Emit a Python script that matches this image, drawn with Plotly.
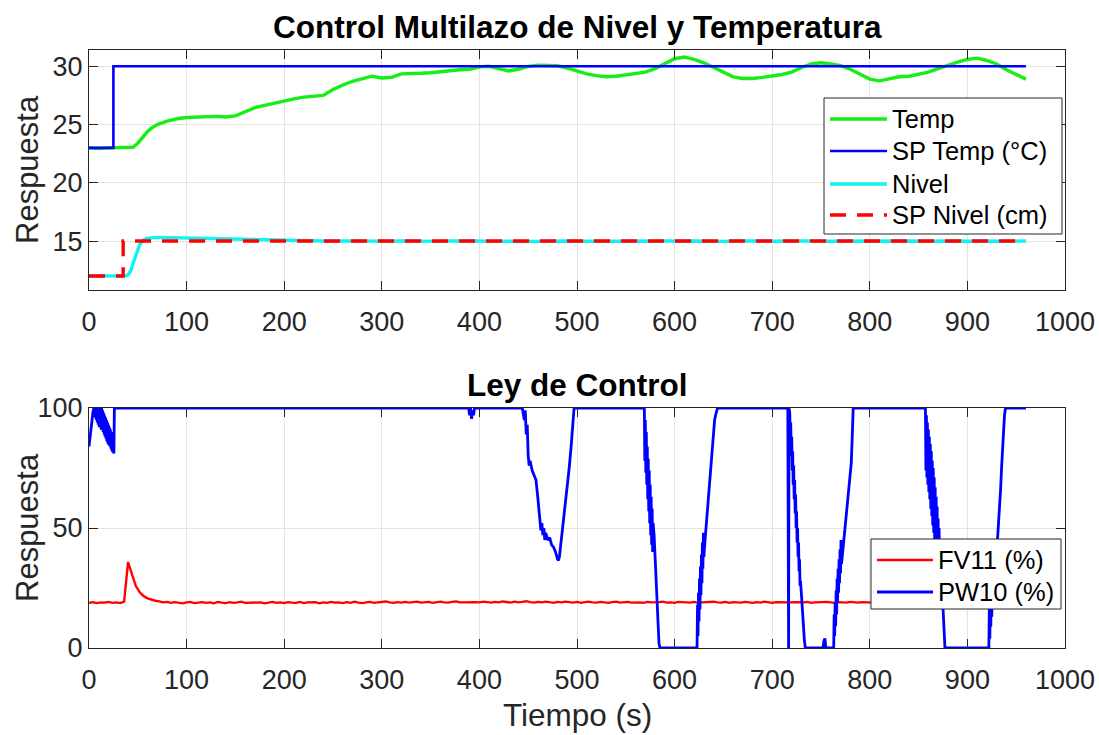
import plotly.graph_objects as go

# ---------------- data ----------------
sp_temp_t = [0, 25, 25, 960]
sp_temp_v = [23, 23, 30, 30]

sp_nivel_t = [0, 35, 35, 960]
sp_nivel_v = [12, 12, 15, 15]

temp_t = [0, 10, 20, 30, 40, 45, 50, 55, 60, 65, 70] + list(range(80, 961, 10))
temp_v = [23.0, 22.95, 23.0, 23.0, 23.0, 23.05, 23.4, 23.9, 24.4, 24.75, 25.0,
          25.3, 25.5, 25.6, 25.65, 25.7, 25.7, 25.65, 25.75, 26.1, 26.45,
          26.65, 26.85, 27.05, 27.2, 27.35, 27.45, 27.5, 28.0, 28.4, 28.7,
          28.95, 29.15, 29.0, 29.05, 29.35, 29.35, 29.4, 29.45, 29.55, 29.65,
          29.7, 29.75, 29.95, 30.0, 29.8, 29.6, 29.75, 30.0, 30.1, 30.1,
          30.05, 29.85, 29.6, 29.35, 29.2, 29.1, 29.15, 29.25, 29.35, 29.5,
          29.8, 30.2, 30.65, 30.8, 30.6, 30.3, 29.9, 29.5, 29.1, 28.95,
          28.95, 29.05, 29.15, 29.3, 29.5, 29.9, 30.2, 30.3, 30.2, 30.05,
          29.75, 29.3, 28.9, 28.75, 28.95, 29.1, 29.15, 29.3, 29.5, 29.8,
          30.1, 30.35, 30.6, 30.7, 30.5, 30.2, 29.7, 29.3, 28.9]

nivel_t = [0, 10, 20, 30, 38, 40, 43, 46, 49, 52, 56, 60, 70, 80, 90, 100,
           110, 120, 130, 140, 150, 160, 170, 180, 190, 200] + list(range(210, 961, 10))
nivel_v = [12.0, 12.0, 11.98, 12.0, 12.02, 12.1, 12.5, 13.3, 14.1, 14.7, 15.1, 15.25, 15.32,
           15.3, 15.28, 15.25, 15.22, 15.2, 15.17, 15.14, 15.12, 15.1, 15.08, 15.06, 15.05, 15.04,
           15.02, 14.99, 15.03, 15.0, 14.98, 15.02, 15.01, 14.97, 15.03, 15.0,
           14.98, 15.02, 14.99, 15.03, 15.0, 14.97, 15.01, 15.03, 14.99, 15.0,
           14.97, 15.01, 14.98, 14.96, 15.0, 14.97, 14.99, 14.96, 15.0, 14.98,
           14.97, 15.0, 14.98, 14.96, 14.99, 15.01, 14.97, 14.99, 15.0, 14.97,
           14.99, 15.01, 14.98, 15.0, 14.97, 15.0, 15.02, 14.98, 15.0, 14.99,
           15.01, 14.98, 15.0, 15.02, 14.99, 15.0, 14.98, 15.01, 15.0, 14.98,
           15.02, 14.99, 15.0, 15.01, 14.98, 15.0, 15.02, 14.99, 15.0, 14.98,
           15.01, 15.0, 14.99, 15.01, 15.0, 15.0]

fv11_v = [18.8, 19.1, 18.7, 19.0, 18.9, 19.2, 18.8, 19.0, 18.7,
          19.3, 35.8, 31.0, 25.8, 23.2, 21.6, 20.7, 20.1, 19.7, 19.4, 19.0, 19.2,
          18.8, 19.1, 18.9, 18.6, 19.0, 19.2, 18.7, 18.9, 19.1, 18.8, 19.0, 18.6, 19.2, 18.9, 18.7, 19.1, 18.8, 19.0, 19.3, 18.8,
          18.9, 18.7, 19.1, 19.0, 18.6, 18.9, 19.2, 18.8, 19.0, 18.7, 19.1, 18.9, 18.8, 19.2, 18.7, 19.0, 18.9, 19.1, 18.6, 19.0,
          18.8, 19.2, 18.9, 19.0, 18.7, 19.1, 18.8, 19.3, 18.9, 18.7, 19.0, 19.2, 18.8, 19.0, 18.9, 19.4, 19.0, 18.8, 19.1, 18.9,
          19.2, 18.9, 19.1, 19.3, 18.9, 19.0, 19.2, 18.8, 19.1, 19.3, 19.0, 18.9, 19.2, 19.4, 19.0, 19.1, 18.9, 19.3, 19.1, 19.0,
          19.3, 19.1, 18.9, 19.2, 19.0, 19.4, 19.1, 18.9, 19.3, 19.0, 19.2, 19.5, 19.1, 18.9, 19.2, 19.0, 19.3, 19.1, 18.8, 19.2,
          19.0, 19.3, 19.1, 18.9, 19.2, 18.8, 19.1, 19.3, 19.0, 18.9, 19.2, 19.0, 18.8, 19.1, 19.3, 18.9, 19.0, 19.2, 18.9, 19.1,
          19.0, 18.8, 19.2, 19.0, 18.9, 19.1, 19.3, 18.9, 19.0, 18.8, 19.2, 19.0, 19.1, 18.9, 19.2, 18.8, 19.0, 19.1, 18.9, 19.3,
          19.0, 18.9, 19.2, 18.8, 19.1, 19.0, 18.9, 19.2, 19.0, 18.8, 19.1, 18.9, 19.3, 19.0, 18.8, 19.1, 19.0, 19.2, 18.9, 19.0,
          19.1, 18.9, 19.0, 19.2, 18.8, 19.0, 19.1, 18.9, 19.2, 19.0, 18.8, 19.1, 19.0, 18.9, 19.2, 19.0, 18.9, 19.1, 19.0, 18.9,
          19.1, 19.0, 18.8, 19.2, 19.0, 18.9, 19.1, 19.0, 18.8, 19.1, 19.0, 18.9, 19.2, 18.9, 19.0, 19.1, 18.9, 19.0, 19.1, 18.9,
          19.0, 19.1, 18.9, 19.0, 19.2, 18.9, 19.0, 19.1, 18.8, 19.0, 19.1, 18.9, 19.0, 19.2, 18.9, 19.0, 19.1, 18.9, 19.0, 19.1]
fv11_t = [4 * i for i in range(len(fv11_v))]

# PW10: (time, value) pairs read segment by segment
pw10_t = [0, 1, 2, 3, 4, 5, 5.5, 6, 6.5, 7, 7.5, 8, 8.5, 9, 9.5, 10, 10.5, 11, 11.5, 12, 12.5, 13, 13.5,
          14, 14.5, 15, 15.5, 16, 16.5, 17, 17.5, 18, 18.5, 19, 19.5, 20, 20.5, 21, 21.5, 22, 22.5,
          23, 23.5, 24, 24.5, 25, 25.5, 26,
          389, 390, 391, 392, 393, 394, 395, 396,
          444, 446, 447, 448, 449, 450, 451, 452, 454, 456, 458, 460, 462, 463, 464, 465, 466, 467, 468,
          470, 472, 474, 476, 478, 480, 481, 482, 484, 486, 488, 490, 492, 494, 496, 497,
          569, 569.5, 570, 570.5, 571, 571.5, 572, 572.5, 573, 573.5, 574, 574.5, 575, 575.5, 576, 576.5,
          577, 577.5, 578, 579, 580, 581, 582, 583, 584, 585,
          623, 623.5, 624, 624.5, 625, 625.5, 626, 626.5, 627, 627.5, 628, 628.5, 629, 629.5, 630, 631,
          632, 633, 634, 635, 636, 637, 638, 639, 640, 641, 642, 643, 644,
          716, 716.3, 716.8, 717.2, 718, 718.5, 719, 719.5, 720, 720.5, 721, 721.5, 722, 722.5, 723, 723.5,
          724, 724.5, 725, 725.5, 726, 726.5, 727, 727.5, 728, 728.5, 729, 730, 731, 732, 733, 734,
          752, 753, 754, 755,
          763, 763.5, 764, 764.5, 765, 765.5, 766, 766.5, 767, 767.5, 768, 768.5, 769, 769.5, 770, 770.5,
          771, 772, 773, 774, 775, 776, 777, 778, 779, 780, 781, 782, 783,
          857, 857.5, 858, 858.5, 859, 859.5, 860, 860.5, 861, 861.5, 862, 862.5, 863, 863.5, 864, 864.5,
          865, 865.5, 866, 866.5, 867, 867.5, 868, 868.5, 869, 869.5, 870, 870.5, 871, 871.5, 872, 873,
          874, 875, 876, 877,
          922, 922.5, 923, 923.5, 924, 924.5, 925, 925.5, 926, 926.5, 927, 927.5, 928, 928.5, 929, 930,
          931, 932, 933, 934, 935, 936, 937, 938, 939, 960]
pw10_v = [84, 88, 92, 95, 98, 100, 97, 100, 96, 100, 95, 100, 94, 100, 93, 100, 92, 100, 92, 100, 91, 100, 91,
          99, 90, 98, 89, 97, 88, 96, 87, 95, 86, 94, 85, 93, 84.5, 92, 84, 91, 83,
          90, 82, 89, 81.5, 88, 81, 100,
          100, 97, 100, 95.5, 99, 97, 100, 100,
          100, 95, 99, 89, 93, 80, 76, 78, 74, 72, 70, 62, 54, 49, 52, 47, 50, 45, 48,
          45, 46, 43, 42, 40, 37, 36.5, 38, 45, 52, 59, 66, 75, 84, 94, 100,
          100, 78, 95, 73, 90, 68, 84, 62, 79, 57, 74, 52, 68, 47, 63, 43,
          58, 40, 52, 47, 38, 28, 19, 9, 2, 0,
          0, 18, 5, 23, 11, 29, 16, 34, 22, 39, 27, 44, 33, 48, 38, 44,
          49, 55, 60, 65, 71, 76, 82, 87, 92, 95, 97, 99, 100,
          100, 0, 0, 100, 98, 86, 94, 80, 88, 74, 82, 68, 76, 62, 70, 56,
          64, 50, 57, 44, 50, 38, 44, 32, 37, 26, 28, 22, 15, 8, 3, 0,
          0, 3, 4, 0,
          0, 14, 5, 19, 9, 24, 14, 29, 19, 33, 23, 37, 27, 41, 31, 45,
          35, 39, 43, 47, 51, 56, 60, 64, 69, 73, 77, 88, 100,
          100, 74, 97, 71, 94, 68, 91, 65, 88, 62, 85, 58, 82, 55, 78, 51,
          75, 48, 71, 44, 67, 40, 63, 36, 59, 32, 54, 28, 50, 30, 42, 33,
          25, 16, 8, 0,
          0, 18, 4, 22, 9, 27, 13, 31, 18, 36, 22, 40, 27, 45, 33, 39,
          45, 50, 58, 66, 75, 84, 92, 97, 100, 100]

x_ticks = [0, 100, 200, 300, 400, 500, 600, 700, 800, 900, 1000]
y1_ticks = [15, 20, 25, 30]
y2_ticks = [0, 50, 100]

# ---------------- figure ----------------
FONT = "Liberation Sans, Arial, Helvetica, sans-serif"
TXT = "#262626"
W, H = 1099, 735
DASH = "16px,11px"

def px(x):
    return x / W

def py(y):
    return 1 - y / H

series = [
    # name, x, y, color, width, dash, axis pair
    ("Temp", temp_t, temp_v, "#16ee16", 3.4, "solid", "top"),
    ("SP Temp (°C)", sp_temp_t, sp_temp_v, "#0000ff", 2.6, "solid", "top"),
    ("Nivel", nivel_t, nivel_v, "#12f2f2", 3.4, "solid", "top"),
    ("SP Nivel (cm)", sp_nivel_t, sp_nivel_v, "#ff0000", 3.4, DASH, "top"),
    ("FV11 (%)", fv11_t, fv11_v, "#ff0000", 2.4, "solid", "bot"),
    ("PW10 (%)", pw10_t, pw10_v, "#0000ff", 2.8, "solid", "bot"),
]

fig = go.Figure()
for name, xs, ys, col, lw, dash, ax in series:
    fig.add_trace(go.Scatter(
        x=xs, y=ys, mode="lines", name=name, showlegend=False,
        line=dict(color=col, width=lw, dash=dash),
        xaxis="x" if ax == "top" else "x2", yaxis="y" if ax == "top" else "y2"))

xdom = [px(89), px(1065)]
top_dom = [py(290), py(50)]
bot_dom = [py(648), py(408)]

axis_common = dict(
    showline=True, linecolor=TXT, linewidth=1, mirror="ticks",
    ticks="inside", ticklen=9, tickcolor=TXT, tickwidth=1,
    showgrid=True, gridcolor="#e3e3e3", gridwidth=1, zeroline=False,
    tickfont=dict(family=FONT, size=27, color=TXT), automargin=False,
)

# ---- legends drawn as boxes + sample lines + text ----
shapes = []
annotations = []

def legend_box(x0, y0, x1, y1, items, line_x0, line_x1, text_x):
    shapes.append(dict(type="rect", xref="paper", yref="paper", layer="above",
                       x0=px(x0), x1=px(x1), y0=py(y1), y1=py(y0),
                       fillcolor="white", line=dict(color=TXT, width=1)))
    for (name, col, lw, dash, yy) in items:
        shapes.append(dict(type="line", xref="paper", yref="paper", layer="above",
                           x0=px(line_x0), x1=px(line_x1), y0=py(yy), y1=py(yy),
                           line=dict(color=col, width=lw, dash=dash)))
        annotations.append(dict(text=name, x=px(text_x), y=py(yy), xref="paper", yref="paper",
                                showarrow=False, xanchor="left", yanchor="middle",
                                font=dict(family=FONT, size=25.5, color="#000000")))

legend_box(824, 98, 1062, 234,
           [(s[0], s[3], s[4], s[5], yy) for s, yy in zip(series[:4], [119, 151, 184, 215])],
           830, 887, 890)
legend_box(871, 539, 1061, 609,
           [(s[0], s[3], s[4], s[5], yy) for s, yy in zip(series[4:], [560, 592])],
           877, 933, 936)

annotations += [
    dict(text="<b>Control Multilazo de Nivel y Temperatura</b>", x=px(577), y=py(27),
         xref="paper", yref="paper", showarrow=False, xanchor="center", yanchor="middle",
         font=dict(family=FONT, size=31.5, color="#000000")),
    dict(text="<b>Ley de Control</b>", x=px(577), y=py(385),
         xref="paper", yref="paper", showarrow=False, xanchor="center", yanchor="middle",
         font=dict(family=FONT, size=31.5, color="#000000")),
    dict(text="Respuesta", x=px(27), y=py(170), textangle=-90,
         xref="paper", yref="paper", showarrow=False, xanchor="center", yanchor="middle",
         font=dict(family=FONT, size=31, color=TXT)),
    dict(text="Respuesta", x=px(27), y=py(528), textangle=-90,
         xref="paper", yref="paper", showarrow=False, xanchor="center", yanchor="middle",
         font=dict(family=FONT, size=31, color=TXT)),
    dict(text="Tiempo (s)", x=px(577), y=py(715),
         xref="paper", yref="paper", showarrow=False, xanchor="center", yanchor="middle",
         font=dict(family=FONT, size=31.5, color=TXT)),
]

fig.update_layout(
    width=W, height=H,
    paper_bgcolor="white", plot_bgcolor="white",
    margin=dict(l=0, r=0, t=0, b=0, pad=0, autoexpand=False),
    showlegend=False,
    xaxis=dict(domain=xdom, anchor="y", range=[0, 1000], tickvals=x_ticks,
               ticklabelstandoff=8, **axis_common),
    yaxis=dict(domain=top_dom, anchor="x", range=[10.8, 31.4], tickvals=y1_ticks,
               ticklabelstandoff=0, **axis_common),
    xaxis2=dict(domain=xdom, anchor="y2", range=[0, 1000], tickvals=x_ticks,
                ticklabelstandoff=8, **axis_common),
    yaxis2=dict(domain=bot_dom, anchor="x2", range=[0, 100], tickvals=y2_ticks,
                ticklabelstandoff=0, **axis_common),
    shapes=shapes,
    annotations=annotations,
)

fig.write_html("out.html", config={"displayModeBar": False},
               post_script="document.body.style.margin='0px';document.body.style.padding='0px';")
